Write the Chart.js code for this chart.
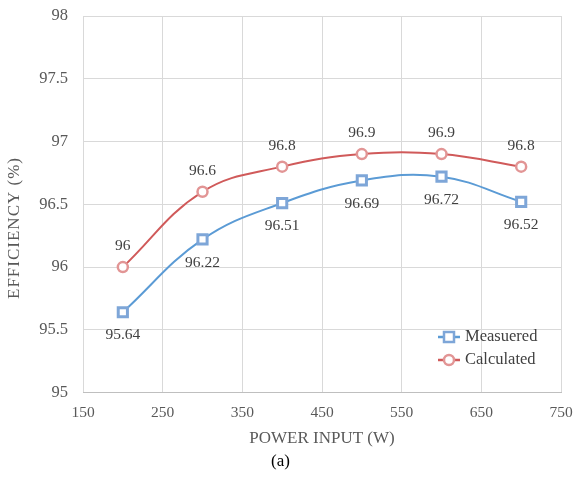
<!DOCTYPE html>
<html>
<head>
<meta charset="utf-8">
<script src="https://cdn.jsdelivr.net/npm/chart.js@4.4.1/dist/chart.umd.min.js"></script>
<style>
  html, body { margin: 0; padding: 0; background: #fff; }
  #wrap { width: 574px; height: 479px; }
</style>
</head>
<body>
<div id="wrap"><canvas id="myChart" width="574" height="479"></canvas></div>
<script>
const powerInput = [200, 300, 400, 500, 600, 700];
const measured = [95.64, 96.22, 96.51, 96.69, 96.72, 96.52];
const calculated = [96, 96.6, 96.8, 96.9, 96.9, 96.8];
const measuredLabels = ['95.64', '96.22', '96.51', '96.69', '96.72', '96.52'];
const calculatedLabels = ['96', '96.6', '96.8', '96.9', '96.9', '96.8'];
const yTitle = 'EFFICIENCY (%)';
const xTitle = 'POWER INPUT (W)';

const serif = '"Liberation Serif", "DejaVu Serif", serif';

function toPoints(xs, ys) {
    return xs.map(function (x, i) { return { x: x, y: ys[i] }; });
}

// value labels: calculated above, measured below
const pointLabels = {
    id: 'pointLabels',
    afterDatasetsDraw(chart) {
        const ctx = chart.ctx;
        ctx.save();
        ctx.font = '15.5px ' + serif;
        ctx.fillStyle = '#404040';
        ctx.textAlign = 'center';
        ctx.textBaseline = 'middle';
        chart.data.datasets.forEach(function (ds, di) {
            const meta = chart.getDatasetMeta(di);
            meta.data.forEach(function (pt, i) {
                const off = ds.labelAbove ? -21 : 23;
                ctx.fillText(ds.valueLabels[i], pt.x, pt.y + off);
            });
        });
        ctx.restore();
    }
};

// y axis title, sits a bit below the plot centre like the original
const yAxisTitle = {
    id: 'yAxisTitle',
    afterDraw(chart) {
        const ctx = chart.ctx;
        ctx.save();
        ctx.translate(15, 228);
        ctx.rotate(-Math.PI / 2);
        ctx.font = '17px ' + serif;
        ctx.letterSpacing = '1px';
        ctx.fillStyle = '#595959';
        ctx.textAlign = 'center';
        ctx.textBaseline = 'middle';
        ctx.fillText(yTitle, 0, 0);
        ctx.restore();
    }
};

// legend inside the plot area, bottom right
const innerLegend = {
    id: 'innerLegend',
    afterDraw(chart) {
        const ctx = chart.ctx;
        const x0 = 438, y0 = 337, gap = 23;
        ctx.save();
        ctx.font = '16.5px ' + serif;
        ctx.textBaseline = 'middle';
        ctx.textAlign = 'left';
        chart.data.datasets.forEach(function (ds, i) {
            const y = y0 + i * gap;
            ctx.strokeStyle = ds.borderColor;
            ctx.lineWidth = 2.5;
            ctx.beginPath();
            ctx.moveTo(x0, y);
            ctx.lineTo(x0 + 22, y);
            ctx.stroke();
            ctx.fillStyle = '#fff';
            ctx.strokeStyle = ds.pointBorderColor;
            ctx.lineWidth = 2.5;
            if (ds.pointStyle === 'rect') {
                ctx.fillRect(x0 + 6, y - 5, 10, 10);
                ctx.strokeRect(x0 + 6, y - 5, 10, 10);
            } else {
                ctx.beginPath();
                ctx.arc(x0 + 11, y, 5, 0, Math.PI * 2);
                ctx.fill();
                ctx.stroke();
            }
            ctx.fillStyle = '#404040';
            ctx.fillText(ds.label, x0 + 27, y);
        });
        ctx.restore();
    }
};

const ctx = document.getElementById('myChart');
new Chart(ctx, {
    type: 'line',
    data: {
        datasets: [
            {
                label: 'Measuered',
                data: toPoints(powerInput, measured),
                valueLabels: measuredLabels,
                labelAbove: false,
                borderColor: '#5B9BD5',
                borderWidth: 2,
                pointStyle: 'rect',
                pointRadius: 6.5,
                pointBorderWidth: 3,
                pointBorderColor: '#7EA6D8',
                pointBackgroundColor: '#fff',
                tension: 0.4
            },
            {
                label: 'Calculated',
                data: toPoints(powerInput, calculated),
                valueLabels: calculatedLabels,
                labelAbove: true,
                borderColor: '#D05A5A',
                borderWidth: 2,
                pointStyle: 'circle',
                pointRadius: 5,
                pointBorderWidth: 2.5,
                pointBorderColor: '#E29595',
                pointBackgroundColor: '#fff',
                tension: 0.4
            }
        ]
    },
    options: {
        responsive: false,
        animation: false,
        layout: { padding: { top: 16, right: 13, left: 0, bottom: 7 } },
        plugins: {
            legend: { display: false },
            tooltip: { enabled: false },
            title: {
                display: true,
                position: 'bottom',
                text: '(a)',
                color: '#000',
                font: { family: serif, size: 17, weight: 'normal' },
                padding: { top: 0, bottom: 0 }
            }
        },
        scales: {
            x: {
                type: 'linear',
                min: 150,
                max: 750,
                ticks: {
                    stepSize: 100,
                    color: '#595959',
                    font: { family: serif, size: 15.5 },
                    padding: 11
                },
                grid: { color: '#D9D9D9', drawTicks: false },
                border: { color: '#BFBFBF' },
                title: {
                    display: true,
                    text: xTitle,
                    color: '#595959',
                    font: { family: serif, size: 17 },
                    padding: { top: 4, bottom: 3 }
                },
                afterFit: function (scale) {
                    scale.height = 59;
                    scale.paddingLeft = 0;
                    scale.paddingRight = 0;
                }
            },
            y: {
                min: 95,
                max: 98,
                ticks: {
                    stepSize: 0.5,
                    color: '#595959',
                    font: { family: serif, size: 16.5 },
                    padding: 15,
                    callback: function (v) { return String(v); }
                },
                grid: { color: '#D9D9D9', drawTicks: false },
                border: { display: false },
                title: { display: false },
                afterFit: function (scale) {
                    scale.width = 83;
                    scale.paddingTop = 0;
                    scale.paddingBottom = 0;
                }
            }
        }
    },
    plugins: [pointLabels, yAxisTitle, innerLegend]
});
</script>
</body>
</html>
